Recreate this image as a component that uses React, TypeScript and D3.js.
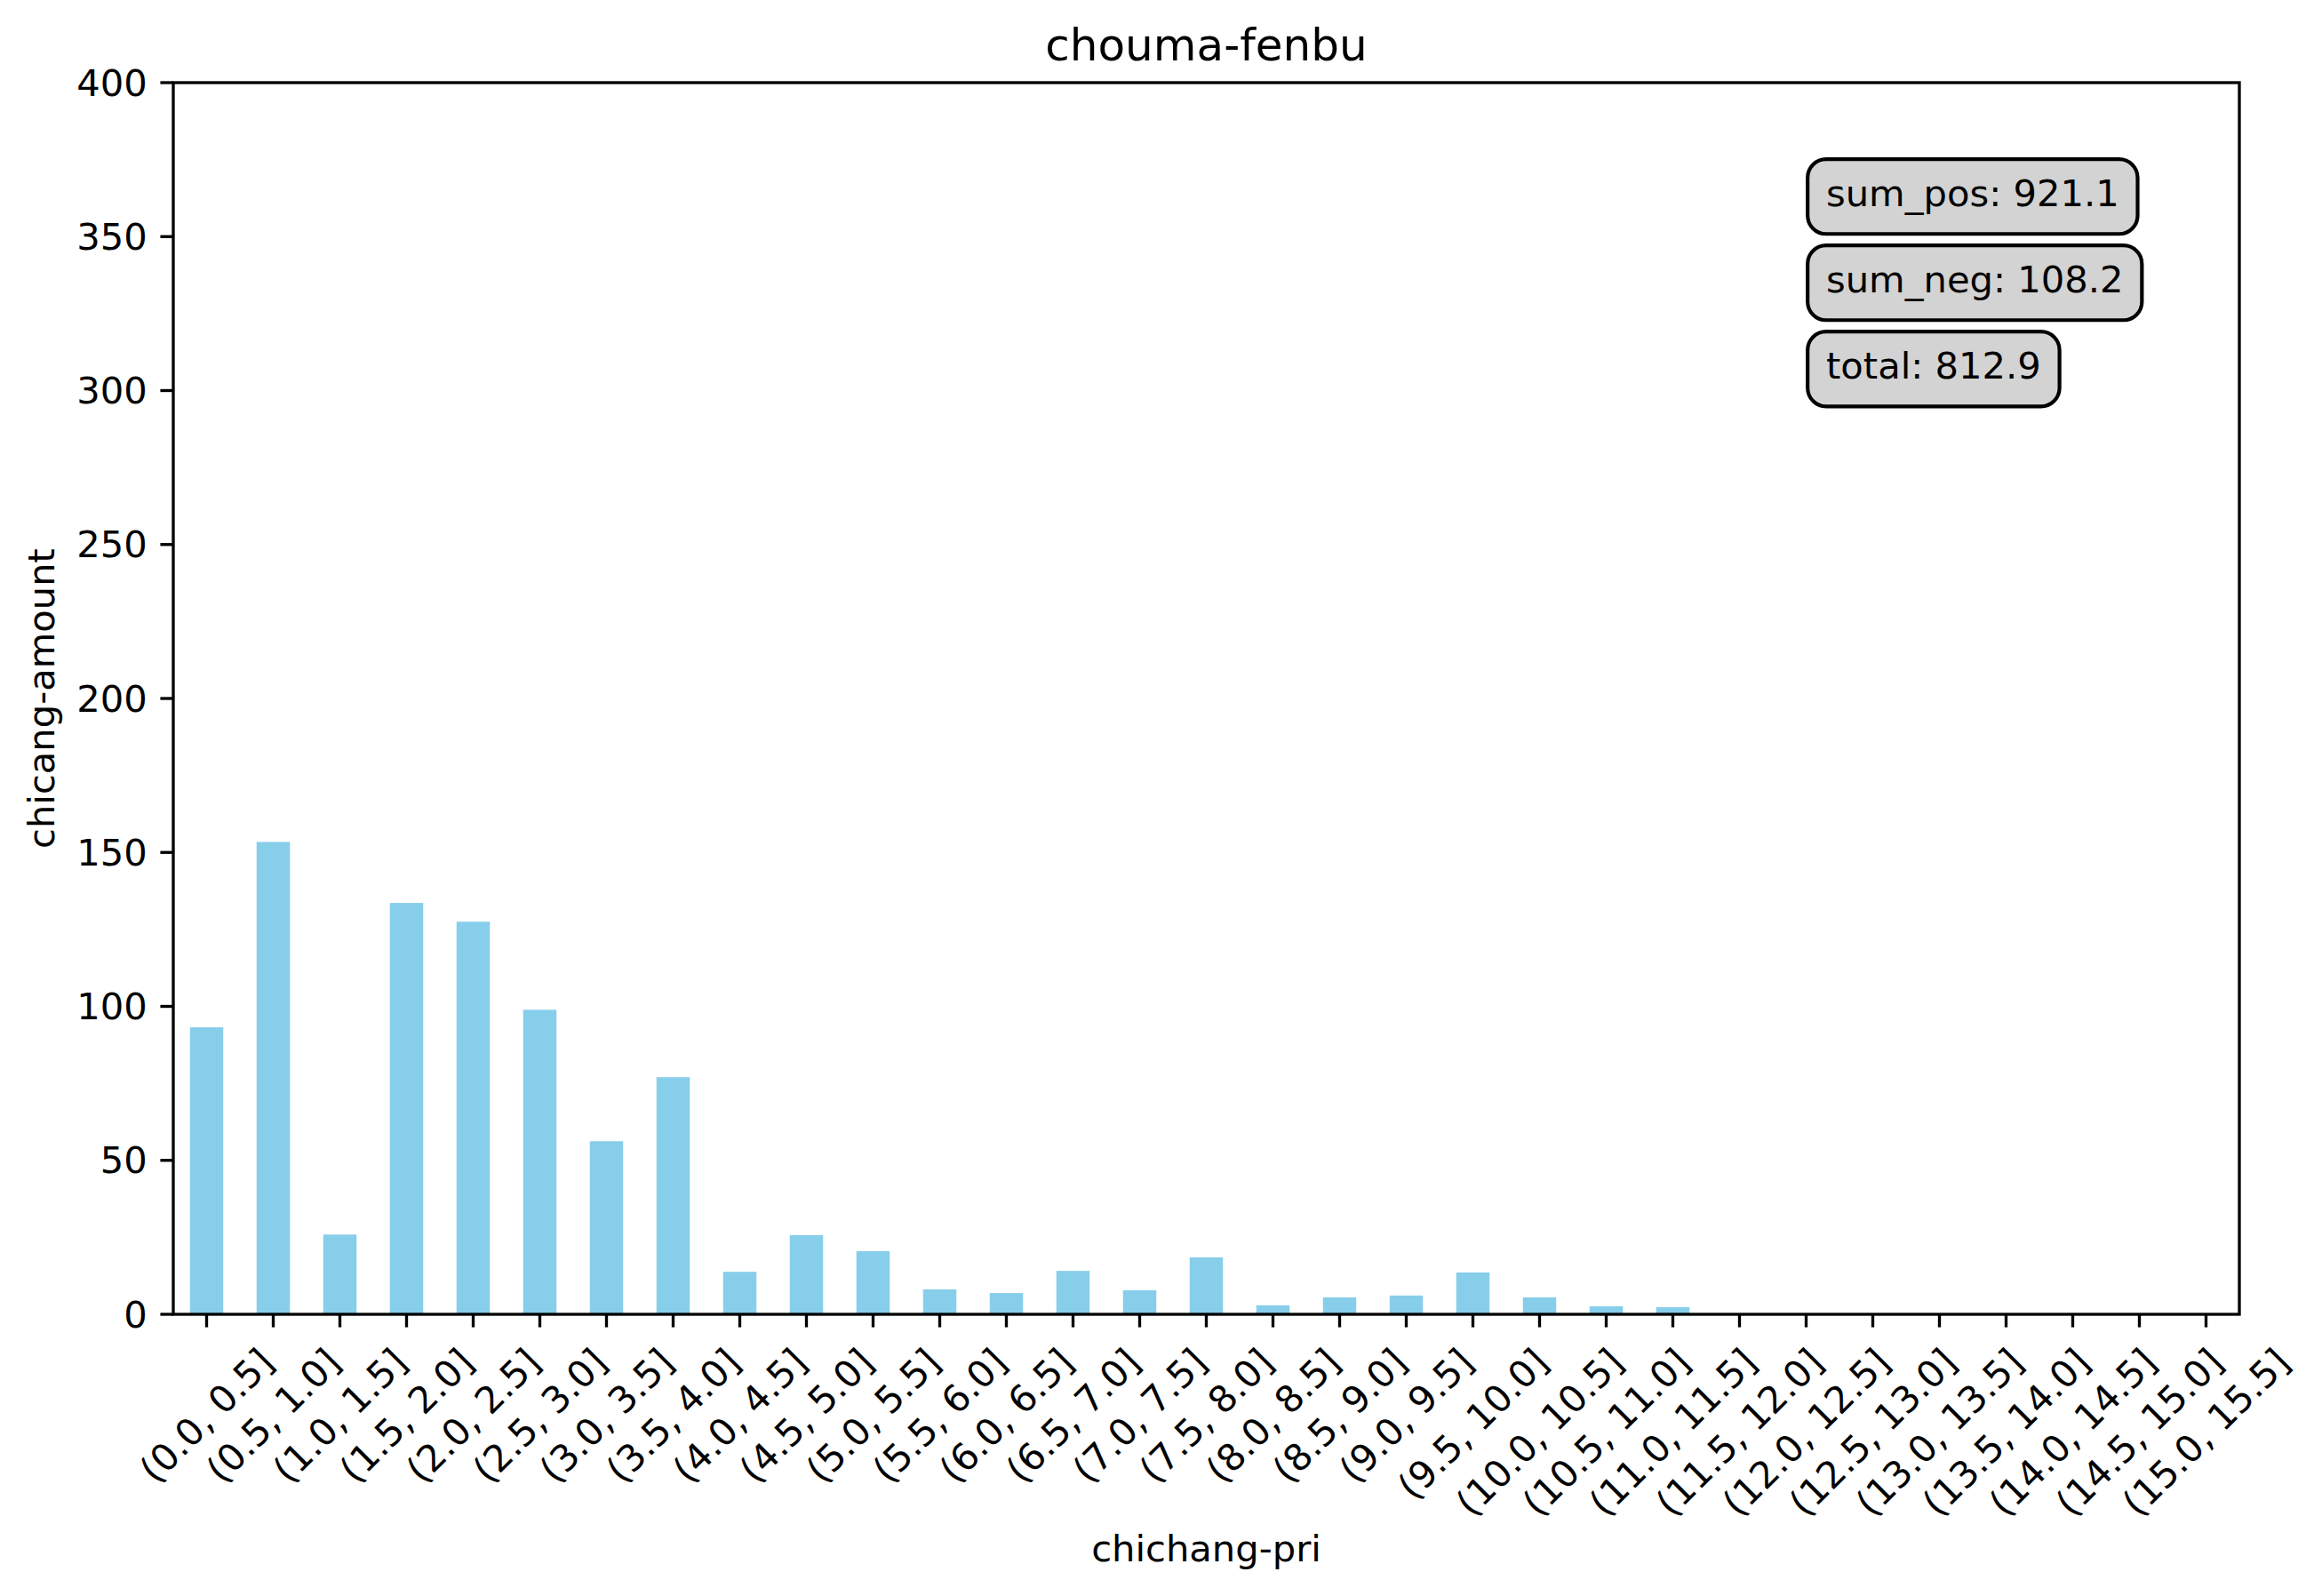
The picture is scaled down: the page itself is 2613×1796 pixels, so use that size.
import React, { useEffect, useRef } from "react";
import * as d3 from "d3";

const categories: string[] = [
  "(0.0, 0.5]", "(0.5, 1.0]", "(1.0, 1.5]", "(1.5, 2.0]", "(2.0, 2.5]", "(2.5, 3.0]",
  "(3.0, 3.5]", "(3.5, 4.0]", "(4.0, 4.5]", "(4.5, 5.0]", "(5.0, 5.5]", "(5.5, 6.0]",
  "(6.0, 6.5]", "(6.5, 7.0]", "(7.0, 7.5]", "(7.5, 8.0]", "(8.0, 8.5]", "(8.5, 9.0]",
  "(9.0, 9.5]", "(9.5, 10.0]", "(10.0, 10.5]", "(10.5, 11.0]", "(11.0, 11.5]", "(11.5, 12.0]",
  "(12.0, 12.5]", "(12.5, 13.0]", "(13.0, 13.5]", "(13.5, 14.0]", "(14.0, 14.5]", "(14.5, 15.0]",
  "(15.0, 15.5]",
];

const values: number[] = [
  93.2, 153.4, 25.9, 133.6, 127.5, 98.9, 56.2, 77.0, 13.8, 25.7, 20.5, 8.1,
  6.9, 14.1, 7.8, 18.5, 2.9, 5.5, 6.1, 13.6, 5.5, 2.6, 2.3, 0, 0, 0, 0, 0, 0, 0, 0,
];

const yTicks: number[] = [0, 50, 100, 150, 200, 250, 300, 350, 400];

const boxTexts: string[] = ["sum_pos: 921.1", "sum_neg: 108.2", "total: 812.9"];
const boxYFrac: number[] = [0.9, 0.83, 0.76];

const title = "chouma-fenbu";
const xLabel = "chichang-pri";
const yLabel = "chicang-amount";

const W = 2613;
const H = 1796;
const L = 195;
const R = 2520;
const T = 93;
const B = 1479;
const FS = 41.667;
const LW = 3.333;
const TICK = 14.583;
const PAD = 14.583;
const FONT = "'DejaVu Sans', 'Liberation Sans', sans-serif";

export default function App() {
  const ref = useRef<SVGSVGElement>(null);

  useEffect(() => {
    document.body.style.margin = "0";
    const svg = d3.select(ref.current);
    svg.selectAll("*").remove();

    const x = d3.scaleBand<string>().domain(categories).range([L, R]).paddingInner(0.5).paddingOuter(0.25);
    const y = d3.scaleLinear().domain([0, 400]).range([B, T]);

    svg.append("rect").attr("x", 0).attr("y", 0).attr("width", W).attr("height", H).attr("fill", "#ffffff");

    // bars
    svg.append("g").selectAll("rect").data(values).join("rect")
      .attr("x", (_d, i) => x(categories[i]) as number)
      .attr("width", x.bandwidth())
      .attr("y", (d) => y(d))
      .attr("height", (d) => B - y(d))
      .attr("fill", "#87CEEB");

    // y ticks
    const gy = svg.append("g");
    yTicks.forEach((t) => {
      gy.append("line").attr("x1", L - TICK).attr("x2", L).attr("y1", y(t)).attr("y2", y(t))
        .attr("stroke", "#000").attr("stroke-width", LW);
      gy.append("text").attr("x", L - TICK - PAD).attr("y", y(t))
        .attr("text-anchor", "end").attr("dominant-baseline", "central")
        .attr("font-family", FONT).attr("font-size", FS).attr("fill", "#000").text(String(t));
    });

    // x ticks
    const gx = svg.append("g");
    const y0 = B + TICK + PAD;
    categories.forEach((c) => {
      const cx = (x(c) as number) + x.bandwidth() / 2;
      gx.append("line").attr("x1", cx).attr("x2", cx).attr("y1", B).attr("y2", B + TICK)
        .attr("stroke", "#000").attr("stroke-width", LW);
      const t = gx.append("text")
        .attr("font-family", FONT).attr("font-size", FS).attr("fill", "#000")
        .attr("text-anchor", "middle").text(c);
      const w = (t.node() as SVGTextElement).getComputedTextLength();
      const h = FS * 1.164;
      const cy = y0 + (w + h) / (2 * Math.SQRT2);
      t.attr("transform", `translate(${cx},${cy}) rotate(-45)`)
        .attr("x", 0).attr("y", FS * 0.346);
    });

    // spines
    svg.append("rect").attr("x", L).attr("y", T).attr("width", R - L).attr("height", B - T)
      .attr("fill", "none").attr("stroke", "#000").attr("stroke-width", LW).attr("stroke-linecap", "square");

    // title
    svg.append("text").attr("x", (L + R) / 2).attr("y", 68).attr("text-anchor", "middle")
      .attr("font-family", FONT).attr("font-size", 50).attr("fill", "#000").text(title);

    // x label
    svg.append("text").attr("x", (L + R) / 2).attr("y", 1757).attr("text-anchor", "middle")
      .attr("font-family", FONT).attr("font-size", FS).attr("fill", "#000").text(xLabel);

    // y label
    svg.append("text").attr("transform", `translate(61,${(T + B) / 2}) rotate(-90)`)
      .attr("text-anchor", "middle")
      .attr("font-family", FONT).attr("font-size", FS).attr("fill", "#000").text(yLabel);

    // annotation boxes
    const tx = L + 0.8 * (R - L);
    const bpad = FS * 0.5;
    boxTexts.forEach((s, i) => {
      const base = B - boxYFrac[i] * (B - T);
      const g = svg.append("g");
      const rect = g.append("rect");
      const t = g.append("text").attr("x", tx).attr("y", base)
        .attr("font-family", FONT).attr("font-size", FS).attr("fill", "#000").text(s);
      const w = (t.node() as SVGTextElement).getComputedTextLength();
      rect.attr("x", tx - bpad).attr("y", base - 0.76 * FS - bpad)
        .attr("width", w + 2 * bpad).attr("height", 1.02 * FS + 2 * bpad)
        .attr("rx", bpad).attr("ry", bpad)
        .attr("fill", "#D3D3D3").attr("stroke", "#000").attr("stroke-width", 4.17);
    });
  }, []);

  return <svg ref={ref} width={W} height={H} style={{ display: "block" }} />;
}
